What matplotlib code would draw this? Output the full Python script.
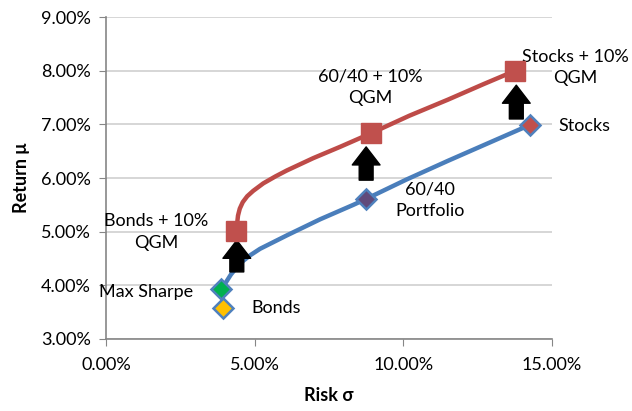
import matplotlib
matplotlib.use("Agg")
import matplotlib.pyplot as plt
from matplotlib.ticker import FuncFormatter

plt.rcParams['font.family'] = ['Lato', 'DejaVu Sans']

# frontier curves (risk %, return %)
blue_risk = [3.89, 4.20, 4.51, 4.85, 5.18, 6.08, 7.20, 8.32, 8.75, 10.1, 11.5, 12.9, 14.26]
blue_ret = [3.93, 4.20, 4.41, 4.56, 4.68, 4.93, 5.23, 5.50, 5.61, 5.97, 6.32, 6.66, 6.99]
red_risk = [4.40, 4.41, 4.44, 4.50, 4.60, 4.75, 4.95, 5.29, 5.70, 6.08, 6.97, 7.87, 8.90,
            10.2, 11.5, 12.7, 13.81]
red_ret = [5.01, 5.15, 5.30, 5.43, 5.55, 5.66, 5.76, 5.90, 6.03, 6.14, 6.37, 6.58, 6.83,
           7.16, 7.46, 7.75, 8.01]

# portfolio markers
base_names = ["Bonds", "Max Sharpe", "60/40", "Stocks"]
base_risk = [3.95, 3.87, 8.75, 14.27]
base_ret = [3.58, 3.93, 5.61, 6.98]
base_colors = ["#ffc000", "#00b050", "#604a7b", "#c0504d"]

qgm_risk = [4.37, 8.90, 13.77]
qgm_ret = [5.01, 6.83, 8.00]

# arrows from base to QGM version
arrow_x = [4.40, 8.75, 13.80]
arrow_from = [4.25, 5.96, 7.10]
arrow_to = [4.84, 6.58, 7.73]

fig = plt.figure(figsize=(6.32, 4.11), dpi=100)
ax = fig.add_axes([0.1677, 0.1752, 0.7057, 0.7834])

ax.plot(blue_risk, blue_ret, color="#4a7ebb", lw=3.2, solid_capstyle="round",
        solid_joinstyle="round", zorder=2)
ax.plot(red_risk, red_ret, color="#be4b48", lw=3.2, solid_capstyle="round",
        solid_joinstyle="round", zorder=2)

for x, y, c in zip(base_risk, base_ret, base_colors):
    ax.plot(x, y, marker="D", ms=10, mfc=c, mec="#4f81bd", mew=1.8, zorder=4)
ax.plot(qgm_risk, qgm_ret, ls="none", marker="s", ms=14, mfc="#c0504d", mec="#c0504d", zorder=4)

for x, y0, y1 in zip(arrow_x, arrow_from, arrow_to):
    ax.annotate("", xy=(x, y1), xytext=(x, y0),
                arrowprops=dict(arrowstyle="simple,head_length=0.65,head_width=1.0,tail_width=0.5",
                                mutation_scale=20, fc="black", ec="black",
                                shrinkA=0, shrinkB=0), zorder=3)

fs = 13
ax.text(1.68, 5.0, "Bonds + 10%\nQGM", ha="center", va="center", fontsize=fs, linespacing=1.45)
ax.text(2.93, 3.88, "Max Sharpe", ha="right", va="center", fontsize=fs)
ax.text(4.88, 3.58, "Bonds", ha="left", va="center", fontsize=fs)
ax.text(10.9, 5.59, "60/40\nPortfolio", ha="center", va="center", fontsize=fs, linespacing=1.45)
ax.text(8.88, 7.69, "60/40 + 10%\nQGM", ha="center", va="center", fontsize=fs, linespacing=1.45)
ax.text(15.78, 8.06, "Stocks + 10%\nQGM", ha="center", va="center", fontsize=fs,
        linespacing=1.45, clip_on=False)
ax.text(15.2, 6.96, "Stocks", ha="left", va="center", fontsize=fs, clip_on=False)

ax.set_xlim(0, 15)
ax.set_ylim(3, 9)
ax.set_xticks([0, 5, 10, 15])
ax.set_yticks([3, 4, 5, 6, 7, 8, 9])
ax.xaxis.set_major_formatter(FuncFormatter(lambda v, p: f"{v:.2f}%"))
ax.yaxis.set_major_formatter(FuncFormatter(lambda v, p: f"{v:.2f}%"))
ax.tick_params(axis="both", labelsize=fs, color="#868686", length=5, direction="out")
ax.tick_params(axis="x", pad=8)
ax.tick_params(axis="y", pad=6)
ax.yaxis.grid(True, color="#d0d0d0", lw=1.2)
ax.set_axisbelow(True)
for s in ["top", "right"]:
    ax.spines[s].set_visible(False)
for s in ["left", "bottom"]:
    ax.spines[s].set_color("#868686")
    ax.spines[s].set_linewidth(1.2)

ax.set_xlabel("Risk σ", fontsize=fs, fontweight="bold", labelpad=10)
ax.set_ylabel("Return μ", fontsize=fs, fontweight="bold", labelpad=8)

fig.savefig("out.png", dpi=100)
